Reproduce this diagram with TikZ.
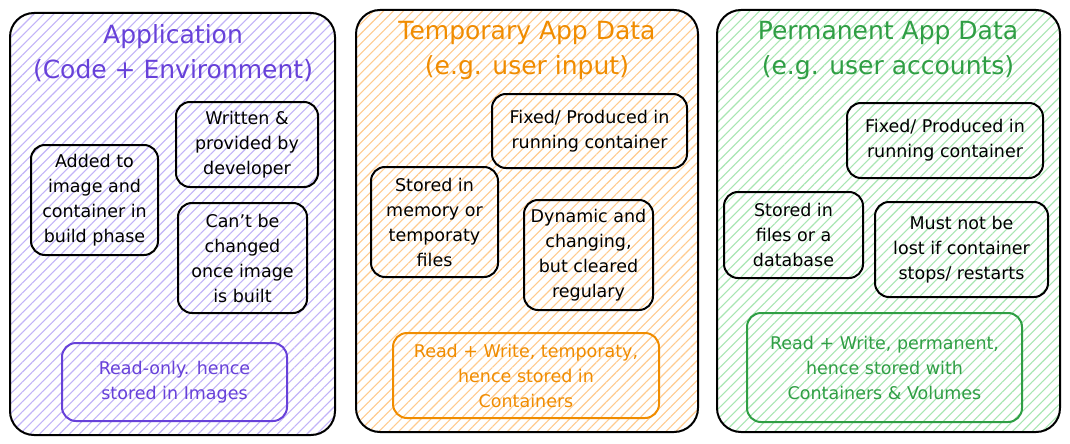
\documentclass[tikz,border=0pt]{standalone}
\usepackage{fontspec}
\setmainfont{DejaVu Sans}
\usetikzlibrary{patterns.meta}
\definecolor{purpleT}{HTML}{6741D9}
\definecolor{purpleH}{HTML}{C2B3F8}
\definecolor{orangeT}{HTML}{F08C00}
\definecolor{orangeH}{HTML}{FFCB8E}
\definecolor{greenT}{HTML}{2F9E44}
\definecolor{greenH}{HTML}{A8E6B2}
\tikzset{
  panel/.style={draw=black, line width=2pt, rounded corners=24pt, inner sep=0pt},
  titletext/.style={align=center, font=\fontsize{25}{35}\selectfont, inner sep=0pt},
  card/.style={draw=black, line width=2pt, rounded corners=14pt, align=center, inner sep=0pt,
    font=\fontsize{17.5}{25}\selectfont, text=black},
  colcard/.style={card, line width=2pt},
  hatch/.style={pattern={Lines[angle=45,distance=7pt,line width=1.1pt]}, pattern color=#1},
}
\begin{document}
\begin{tikzpicture}[x=1pt,y=-1pt]
\useasboundingbox (0,0) rectangle (1070,444);
\fill[white] (0,0) rectangle (1070,444);
% panels
\node[panel, minimum width=325pt, minimum height=422pt, hatch=purpleH] (p1) at (172.5,224) {};
\node[panel, minimum width=342pt, minimum height=422pt, hatch=orangeH] (p2) at (527,221) {};
\node[panel, minimum width=343pt, minimum height=422pt, hatch=greenH] (p3) at (888.5,221) {};
% titles
\node[titletext, text=purpleT] (t1) at (173,53) {Application\\(Code + Environment)};
\node[titletext, text=orangeT] (t2) at (527,50) {Temporary App Data\\(e.g. user input)};
\node[titletext, text=greenT] (t3) at (888,50) {Permanent App Data\\(e.g. user accounts)};
% panel 1 cards
\node[card, minimum width=142pt, minimum height=85pt] (a1) at (247,144.5) {Written \&\\provided by\\developer};
\node[card, minimum width=127pt, minimum height=110pt] (a2) at (94.5,200) {Added to\\image and\\container in\\build phase};
\node[card, minimum width=129pt, minimum height=110pt] (a3) at (242.5,258) {Can't be\\changed\\once image\\is built};
\node[colcard, draw=purpleT, text=purpleT, minimum width=225pt, minimum height=78pt] (a4) at (174.5,382) {Read-only. hence\\stored in Images};
% panel 2 cards
\node[card, minimum width=195pt, minimum height=74pt] (b1) at (589.5,131) {Fixed/ Produced in\\running container};
\node[card, minimum width=127pt, minimum height=110pt] (b2) at (434.5,222) {Stored in\\memory or\\temporaty\\files};
\node[card, minimum width=129pt, minimum height=110pt] (b3) at (588.5,255) {Dynamic and\\changing,\\but cleared\\regulary};
\node[colcard, draw=orangeT, text=orangeT, minimum width=266pt, minimum height=85pt] (b4) at (526,375.5) {Read + Write, temporaty,\\hence stored in\\Containers};
% panel 3 cards
\node[card, minimum width=196pt, minimum height=75pt] (c1) at (945,140.5) {Fixed/ Produced in\\running container};
\node[card, minimum width=139pt, minimum height=86pt] (c2) at (793.5,235) {Stored in\\files or a\\database};
\node[card, minimum width=173pt, minimum height=95pt] (c3) at (961.5,249.5) {Must not be\\lost if container\\stops/ restarts};
\node[colcard, draw=greenT, text=greenT, minimum width=275pt, minimum height=109pt] (c4) at (884.5,367.5) {Read + Write, permanent,\\hence stored with\\Containers \& Volumes};
\end{tikzpicture}
\end{document}
